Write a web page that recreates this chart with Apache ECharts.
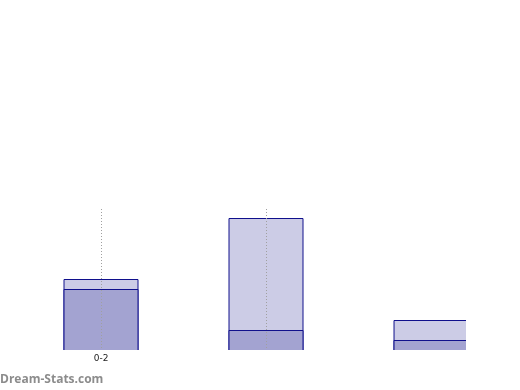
<!DOCTYPE html>
<html><head><meta charset="utf-8">
<script src="https://cdn.jsdelivr.net/npm/echarts@6/dist/echarts.min.js"></script>
<style>html,body{margin:0;padding:0;background:#fff}#c{width:520px;height:390px}</style>
</head><body><div id="c"></div>
<script>
var categories = ["0-2", "", ""];
var positions = [0, 1, 2];
var lowerValues = [6.2, 2.1, 1.1];
var upperValues = [1.0, 11.2, 2.0];
var gridAt = [0, 1];

var chart = echarts.init(document.getElementById('c'), null, {renderer: 'canvas'});
var totals = lowerValues.map(function (v, i) { return v + upperValues[i]; });
function pairs(vals) { return positions.map(function (p, i) { return [p, vals[i]]; }); }
chart.setOption({
  animation: false,
  grid: {left: 18.5, top: 209, width: 447.5, height: 142, containLabel: false},
  xAxis: {
    type: 'value', min: -0.5, max: 2.212, interval: 0.5,
    axisLine: {show: false}, axisTick: {show: false}, splitLine: {show: false},
    axisLabel: {
      margin: 3, fontSize: 9, color: '#222', fontFamily: 'DejaVu Sans',
      showMinLabel: true, showMaxLabel: false,
      formatter: function (v) {
        var i = Math.round(v);
        return (Math.abs(v - i) < 1e-6 && categories[i] !== undefined) ? categories[i] : '';
      }
    }
  },
  yAxis: {type: 'value', min: 0, max: 14.2, show: false, splitLine: {show: false}},
  series: [
    {
      name: 'total', type: 'bar', barWidth: 75, barGap: '-100%', data: pairs(totals), z: 2,
      itemStyle: {color: '#cccce6', borderColor: '#10108c', borderWidth: 1}
    },
    {
      name: 'lower', type: 'bar', barWidth: 75, barGap: '-100%', data: pairs(lowerValues), z: 3,
      itemStyle: {color: '#a3a3d1', borderColor: '#10108c', borderWidth: 1},
      markLine: {
        silent: true, symbol: 'none', label: {show: false}, z: 5,
        lineStyle: {color: '#a0a0a0', type: [1, 2], width: 1},
        data: gridAt.map(function (g) { return {xAxis: g}; })
      }
    }
  ],
  graphic: [
    {type: 'rect', z: 100, shape: {x: 466, y: 200, width: 20, height: 155}, style: {fill: '#fff'}},
    {type: 'rect', z: 100, shape: {x: 40, y: 350, width: 440, height: 3}, style: {fill: '#fff'}},
    {
      type: 'text', left: 0, top: 374, z: 101,
      style: {text: 'Dream-Stats.com', fill: '#8c8c8c', font: 'bold 12px "Open Sans", "DejaVu Sans", sans-serif'}
    }
  ]
});
</script></body></html>
